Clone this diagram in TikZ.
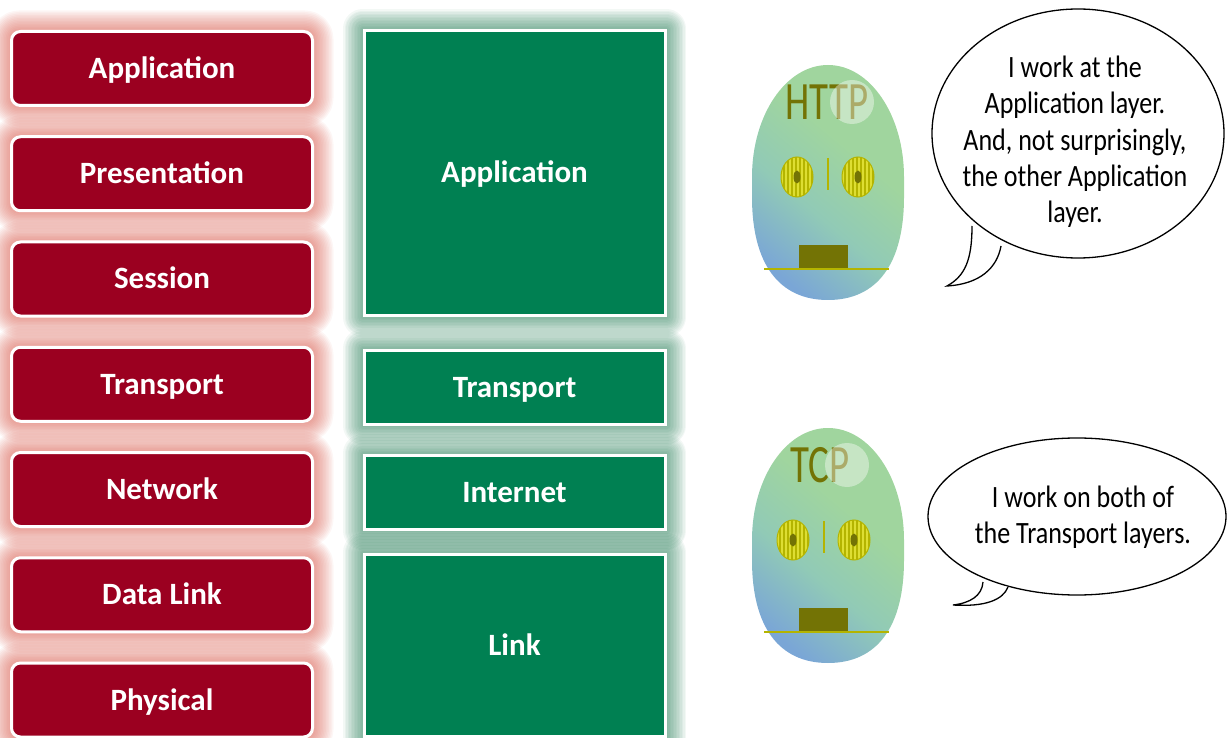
\documentclass[tikz,border=0pt]{standalone}
\usepackage{fontspec}
\setmainfont{Carlito}
\newfontfamily\speechfont{Carlito}[FakeStretch=0.84]
\usetikzlibrary{backgrounds}

\definecolor{osired}{RGB}{155,0,32}
\definecolor{tcpgreen}{RGB}{0,128,82}
\definecolor{redglow}{RGB}{215,85,70}
\definecolor{greenglow}{RGB}{30,120,80}
\definecolor{robotolive}{RGB}{115,115,5}
\definecolor{eyeyellow}{RGB}{222,222,50}
\definecolor{eyestripe}{RGB}{180,180,0}
\definecolor{headgreen}{RGB}{160,213,158}
\definecolor{headmint}{RGB}{145,202,182}
\definecolor{headblue}{RGB}{122,166,214}

% head colouring, blue only low on the left
\pgfdeclareverticalshading{headshade}{100bp}{color(0bp)=(headblue); color(24bp)=(headblue);
  color(42bp)=(headmint); color(60bp)=(headgreen); color(100bp)=(headgreen)}

\tikzset{
  layerbox/.style={draw=white, line width=3pt, text=white, text height=20pt, text depth=0pt,
    font=\bfseries\fontsize{31}{36}\selectfont, minimum width=301pt},
  osilayer/.style={layerbox, fill=osired, rounded corners=9pt, minimum height=74pt},
  tcplayer/.style={layerbox, fill=tcpgreen},
  glow/.style={opacity=0.055, line join=round},
  bubble/.style={draw=black, line width=1.3pt, fill=white},
  saying/.style={align=center, font=\speechfont\fontsize{31}{36.3}\selectfont},
}

\begin{document}
\begin{tikzpicture}[x=1pt, y=-1pt]
\useasboundingbox (0,0) rectangle (1227,738);

% OSI column
\foreach \lbl [count=\i from 0] in {Application,Presentation,Session,Transport,Network,Data Link,Physical}
  \node[osilayer] (osi\i) at (162,{68.5+105.25*\i}) {\lbl};

% TCP/IP column
\node[tcplayer, minimum height=285pt] (tcpapp) at (514.5,173) {Application};
\node[tcplayer, minimum height=74pt] (tcptrans) at (514.5,387) {Transport};
\node[tcplayer, minimum height=74pt] (tcpnet) at (514.5,492) {Internet};
\node[tcplayer, minimum height=182pt] (tcplink) at (514.5,645) {Link};

% soft glow behind the boxes
\begin{scope}[on background layer]
  \foreach \i in {0,...,6}
    \foreach \w in {3,6,...,39}
      \draw[glow, redglow, line width=\w, rounded corners=9pt]
        (osi\i.north west) rectangle (osi\i.south east);
  \foreach \n in {tcpapp,tcptrans,tcpnet,tcplink}
    \foreach \w in {3,6,...,39}
      \draw[glow, greenglow, line width=\w]
        (\n.north west) rectangle (\n.south east);
\end{scope}

% the two robots
\foreach \cy/\fx/\tag/\tx/\hx in {182/0/HTTP/-1/24, 545/-4/TCP/-8/19} {
  \begin{scope}[shift={(828,\cy)}]
    \shade[shading=headshade, shading angle=-40]
      (-76,-5) .. controls (-76,-67) and (-42,-117) .. (0,-117)
      .. controls (42,-117) and (76,-67) .. (76,-5) -- (76,15)
      .. controls (76,82) and (49,118) .. (0,118)
      .. controls (-49,118) and (-76,82) .. (-76,15) -- cycle;
    \node[text=robotolive] (\tag name) at (\tx,-80)
      {\scalebox{0.72}[1]{\fontsize{54}{54}\selectfont\tag}};
    \fill[white, opacity=0.4] (\hx,-80) circle [radius=22];
    % eyes
    \foreach \ex in {-31,30} {
      \begin{scope}
        \clip (\fx+\ex,-5) ellipse [x radius=16, y radius=20];
        \fill[eyeyellow] (\fx+\ex-16,-25) rectangle ++(32,40);
        \foreach \sx in {-13,-9,...,15}
          \draw[eyestripe, line width=1.5] (\fx+\ex+\sx,-25) -- ++(0,40);
      \end{scope}
      \draw[eyestripe, line width=1] (\fx+\ex,-5) ellipse [x radius=16, y radius=20];
      \fill[robotolive] (\fx+\ex,-5) ellipse [x radius=3.5, y radius=6.5];
    }
    \draw[eyestripe, line width=1.6] (\fx,-24) -- (\fx,8);
    % mouth
    \fill[robotolive] (-29,63) rectangle (20,87);
    \draw[eyestripe, line width=2.5] (-64,87) -- (61,87);
  \end{scope}
}

% speech bubbles
\draw[bubble] (1078,133.5) ellipse [x radius=146, y radius=124.5];
\coordinate (httptip) at (947,286);
\fill[white] (972,226) .. controls (972,260) and (965,276) .. (httptip)
  .. controls (980,284) and (997,268) .. (1001,246) -- cycle;
\draw[line width=1.3pt] (972,226) .. controls (972,260) and (965,276) .. (httptip)
  .. controls (980,284) and (997,268) .. (1001,246);
\node[saying] (httpsays) at (1075,142)
  {I work at the\\Application layer.\\And, not surprisingly,\\the other Application\\layer.};

\draw[bubble] (1077,516.5) ellipse [x radius=149, y radius=78.5];
\coordinate (tcptip) at (953,605);
\fill[white] (983,582) .. controls (982,596) and (970,603) .. (tcptip)
  .. controls (985,607) and (1003,600) .. (1008,587) -- cycle;
\draw[line width=1.3pt] (983,582) .. controls (982,596) and (970,603) .. (tcptip)
  .. controls (985,607) and (1003,600) .. (1008,587);
\node[saying] (tcpsays) at (1083,517) {I work on both of\\the Transport layers.};
\end{tikzpicture}
\end{document}
